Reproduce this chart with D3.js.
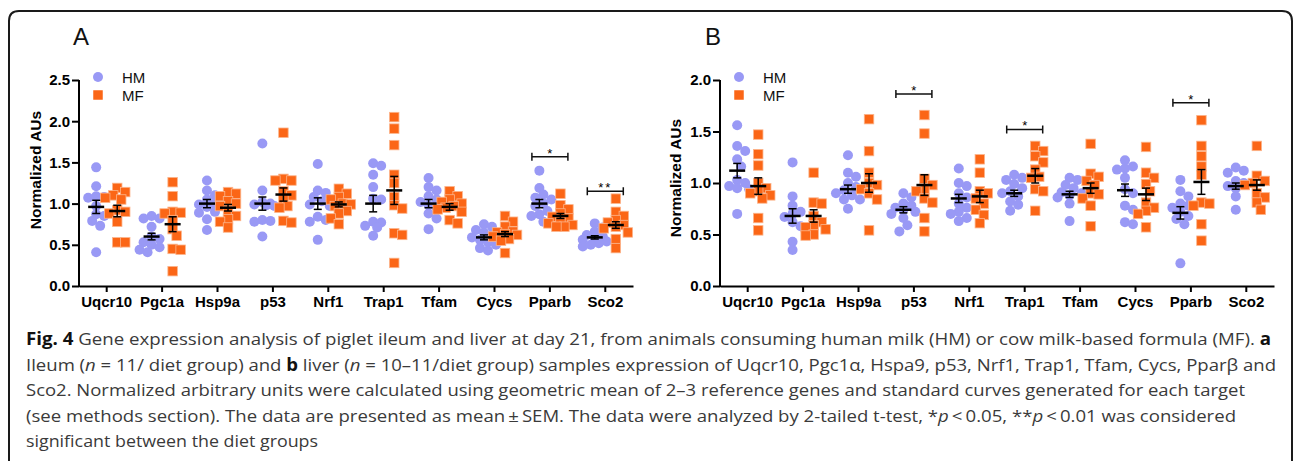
<!DOCTYPE html>
<html>
<head>
<meta charset="utf-8">
<script src="https://cdn.jsdelivr.net/npm/d3@7"></script>
<style>
  body { margin: 0; background: #fff; }
  svg { display: block; }
</style>
</head>
<body>
<script>
// ---- data ----
const genes = ["Uqcr10", "Pgc1a", "Hsp9a", "p53", "Nrf1", "Trap1", "Tfam", "Cycs", "Pparb", "Sco2"];
const groups = ["HM", "MF"];

// panel A: ileum
const ileumHM = [
    [1.44, 1.21, 1.08, 1.07, 1.09, 0.97, 0.87, 0.85, 0.79, 0.73, 0.41],
    [0.85, 0.82, 0.82, 0.72, 0.60, 0.57, 0.53, 0.50, 0.47, 0.44, 0.41],
    [1.28, 1.16, 1.10, 1.05, 1.00, 0.99, 0.96, 0.90, 0.89, 0.81, 0.68],
    [1.73, 1.16, 1.02, 1.00, 0.99, 0.98, 0.97, 0.80, 0.79, 0.78, 0.60],
    [1.48, 1.16, 1.13, 1.08, 1.03, 0.99, 0.97, 0.84, 0.80, 0.78, 0.56],
    [1.49, 1.46, 1.35, 1.20, 1.06, 1.05, 0.78, 0.77, 0.73, 0.71, 0.61],
    [1.31, 1.20, 1.16, 1.09, 1.05, 1.02, 0.98, 0.95, 0.88, 0.82, 0.69],
    [0.75, 0.72, 0.68, 0.65, 0.62, 0.59, 0.56, 0.53, 0.50, 0.46, 0.43],
    [1.40, 1.19, 1.11, 1.07, 1.05, 1.00, 0.97, 0.91, 0.87, 0.85, 0.78],
    [0.76, 0.71, 0.66, 0.62, 0.60, 0.58, 0.56, 0.54, 0.52, 0.50, 0.48]
];
const ileumMF = [
    [1.19, 1.14, 1.10, 1.07, 1.05, 0.92, 0.90, 0.88, 0.78, 0.53, 0.53],
    [1.26, 1.09, 0.90, 0.89, 0.88, 0.80, 0.69, 0.61, 0.45, 0.44, 0.18],
    [1.14, 1.12, 1.09, 1.03, 1.00, 0.97, 0.91, 0.85, 0.81, 0.78, 0.71],
    [1.86, 1.30, 1.28, 1.28, 1.15, 1.10, 1.05, 0.97, 0.95, 0.79, 0.77],
    [1.18, 1.12, 1.08, 1.05, 1.00, 0.99, 0.97, 0.91, 0.88, 0.82, 0.75],
    [2.05, 1.91, 1.71, 1.35, 1.25, 1.08, 0.98, 0.94, 0.64, 0.62, 0.28],
    [1.15, 1.09, 1.05, 1.02, 1.00, 0.97, 0.95, 0.93, 0.90, 0.80, 0.76],
    [0.85, 0.78, 0.72, 0.66, 0.65, 0.63, 0.62, 0.60, 0.57, 0.55, 0.40],
    [1.12, 0.98, 0.93, 0.88, 0.84, 0.82, 0.78, 0.76, 0.74, 0.72, 0.72],
    [1.06, 0.90, 0.85, 0.80, 0.77, 0.74, 0.72, 0.70, 0.65, 0.57, 0.46]
];
const ileumHMMean = [0.96, 0.60, 1.00, 1.00, 1.00, 1.00, 1.00, 0.59, 1.00, 0.59];
const ileumHMSem  = [0.08, 0.04, 0.05, 0.08, 0.07, 0.10, 0.05, 0.03, 0.05, 0.02];
const ileumMFMean = [0.91, 0.75, 0.95, 1.11, 0.99, 1.16, 0.96, 0.63, 0.85, 0.74];
const ileumMFSem  = [0.07, 0.09, 0.04, 0.08, 0.03, 0.17, 0.04, 0.03, 0.03, 0.04];
const ileumSig = [
    {gene: "Pparb", y: 1.57, label: "*"},
    {gene: "Sco2", y: 1.15, label: "**"}
];

// panel B: liver
const liverHM = [
    [1.56, 1.36, 1.31, 1.23, 1.16, 1.03, 1.00, 0.97, 0.95, 0.94, 0.70],
    [1.20, 0.87, 0.78, 0.72, 0.70, 0.67, 0.62, 0.58, 0.43, 0.35],
    [1.27, 1.10, 1.06, 1.00, 0.96, 0.93, 0.90, 0.88, 0.84, 0.84, 0.75],
    [0.90, 0.86, 0.80, 0.78, 0.76, 0.74, 0.72, 0.70, 0.66, 0.59, 0.53],
    [1.14, 1.00, 0.97, 0.90, 0.86, 0.80, 0.76, 0.72, 0.70, 0.66, 0.63],
    [1.08, 1.05, 1.03, 0.99, 0.95, 0.92, 0.90, 0.87, 0.82, 0.79, 0.73],
    [1.05, 1.03, 0.98, 0.95, 0.91, 0.90, 0.88, 0.86, 0.80, 0.63],
    [1.22, 1.16, 1.14, 1.13, 1.05, 0.94, 0.90, 0.78, 0.74, 0.62, 0.60],
    [1.03, 0.92, 0.87, 0.80, 0.78, 0.76, 0.72, 0.68, 0.65, 0.60, 0.22],
    [1.15, 1.12, 1.10, 1.02, 1.00, 0.97, 0.95, 0.87, 0.74]
];
const liverMF = [
    [1.47, 1.28, 1.17, 1.00, 0.95, 0.92, 0.90, 0.88, 0.85, 0.66, 0.54],
    [1.10, 0.81, 0.80, 0.68, 0.62, 0.59, 0.57, 0.55, 0.50, 0.49],
    [1.62, 1.31, 1.10, 1.00, 0.98, 0.94, 0.90, 0.84, 0.54],
    [1.66, 1.48, 1.04, 0.98, 0.94, 0.92, 0.85, 0.81, 0.66, 0.53],
    [1.23, 1.10, 0.92, 0.90, 0.85, 0.80, 0.74, 0.69, 0.61],
    [1.36, 1.31, 1.26, 1.20, 1.13, 1.06, 1.05, 0.94, 0.92, 0.73],
    [1.38, 1.09, 1.06, 1.02, 0.98, 0.90, 0.89, 0.85, 0.78, 0.58],
    [1.35, 1.10, 1.05, 0.99, 0.92, 0.81, 0.76, 0.73, 0.70, 0.57],
    [1.61, 1.36, 1.26, 1.16, 1.08, 0.81, 0.80, 0.78, 0.60, 0.44],
    [1.36, 1.07, 1.02, 1.00, 0.98, 0.90, 0.86, 0.81, 0.74]
];
const liverHMMean = [1.12, 0.68, 0.94, 0.74, 0.85, 0.90, 0.89, 0.93, 0.71, 0.97];
const liverHMSem  = [0.07, 0.07, 0.04, 0.03, 0.04, 0.03, 0.03, 0.06, 0.06, 0.03];
const liverMFMean = [0.97, 0.68, 1.00, 0.98, 0.87, 1.07, 0.95, 0.89, 1.01, 0.98];
const liverMFSem  = [0.08, 0.06, 0.09, 0.10, 0.06, 0.07, 0.05, 0.06, 0.12, 0.05];
const liverSig = [
    {gene: "p53", y: 1.865, label: "*"},
    {gene: "Trap1", y: 1.52, label: "*"},
    {gene: "Pparb", y: 1.78, label: "*"}
];

const yTicksA = [0, 0.5, 1.0, 1.5, 2.0, 2.5];
const yTicksB = [0, 0.5, 1.0, 1.5, 2.0];

// ---- layout / style ----
const W = 1293, H = 461;
const axisTop = 80, axisBottom = 286, axisWidth = 554;
const hmColor = "#9999f5", mfColor = "#fb6616";
const chartFont = "'Liberation Sans', Arial, sans-serif";
const captionFont = "'Open Sans', 'Noto Sans', sans-serif";

let svg = d3.select("body").append("svg")
    .attr("width", W)
    .attr("height", H);

// figure frame (open at the bottom)
svg.append("path")
    .attr("d", "M9,470 V21 Q9,11 19,11 H1282 Q1292,11 1292,21 V470")
    .attr("fill", "none")
    .attr("stroke", "#1a1a1a")
    .attr("stroke-width", 2);

drawPanel({
    letter: "A", letterX: 73, left: 79, yMax: 2.5, yTicks: yTicksA,
    hm: ileumHM, mf: ileumMF,
    hmMean: ileumHMMean, hmSem: ileumHMSem, mfMean: ileumMFMean, mfSem: ileumMFSem,
    sig: ileumSig, titleX: 40.5, titleY: 170
});
drawPanel({
    letter: "B", letterX: 705, left: 720, yMax: 2.0, yTicks: yTicksB,
    hm: liverHM, mf: liverMF,
    hmMean: liverHMMean, hmSem: liverHMSem, mfMean: liverMFMean, mfSem: liverMFSem,
    sig: liverSig, titleX: 681, titleY: 178
});

drawCaption();

// spread points with close values sideways, like a scatter dot plot
function swarm(vals, y) {
    let pts = vals.map(v => ({v: v, py: y(v), dx: 0}))
        .sort((a, b) => a.py - b.py);
    let offs = [0, 4, -4, 8, -8, 12, -12];
    let placed = [];
    pts.forEach(p => {
        let best = 0, bestD = -1;
        for (let o of offs) {
            let d = placed.length ? d3.min(placed, q => Math.hypot(q.dx - o, q.py - p.py)) : 99;
            if (d >= 7.5) { best = o; bestD = d; break; }
            if (d > bestD) { bestD = d; best = o; }
        }
        p.dx = best;
        placed.push(p);
    });
    return pts;
}

function drawPanel(cfg) {
    let g = svg.append("g");

    let y = d3.scaleLinear()
        .domain([0, cfg.yMax])
        .range([axisBottom, axisTop]);
    let x0 = d3.scaleBand()
        .domain(genes)
        .range([cfg.left, cfg.left + axisWidth])
        .paddingInner(0.24)
        .paddingOuter(0.12);
    let x1 = d3.scaleBand()
        .domain(groups)
        .range([0, x0.bandwidth()]);
    let cx = (gene, grp) => x0(gene) + x1(grp) + x1.bandwidth() / 2;

    // panel letter
    g.append("text")
        .attr("x", cfg.letterX)
        .attr("y", 45)
        .text(cfg.letter)
        .style("font-family", chartFont)
        .style("font-size", "24px")
        .attr("fill", "#111");

    // axes
    let yAxis = g.append("g")
        .attr("transform", `translate(${cfg.left},0)`)
        .call(d3.axisLeft(y).tickValues(cfg.yTicks).tickFormat(d3.format(".1f"))
            .tickSize(7).tickSizeOuter(0).tickPadding(2));
    let xAxis = g.append("g")
        .attr("transform", `translate(0,${axisBottom})`)
        .call(d3.axisBottom(x0).tickSize(6).tickSizeOuter(0).tickPadding(4));
    [yAxis, xAxis].forEach(a => {
        a.select(".domain").attr("stroke", "#000").attr("stroke-width", 2);
        a.selectAll(".tick line").attr("stroke", "#000").attr("stroke-width", 2);
        a.selectAll(".tick text")
            .attr("fill", "#000")
            .style("font-family", chartFont)
            .style("font-size", "15px")
            .style("font-weight", "bold");
    });
    // keep the y axis line running through the x axis corner
    yAxis.select(".domain").attr("d", `M0,${axisBottom + 1}V${axisTop}`);

    g.append("text")
        .attr("transform", `translate(${cfg.titleX},${cfg.titleY}) rotate(-90)`)
        .attr("text-anchor", "middle")
        .text("Normalized AUs")
        .style("font-family", chartFont)
        .style("font-size", "15.5px")
        .style("font-weight", "bold");

    // points
    genes.forEach((gene, i) => {
        swarm(cfg.hm[i], y).forEach(p => {
            g.append("circle")
                .attr("cx", cx(gene, "HM") + p.dx)
                .attr("cy", p.py)
                .attr("r", 5)
                .attr("fill", hmColor);
        });
        swarm(cfg.mf[i], y).forEach(p => {
            g.append("rect")
                .attr("x", cx(gene, "MF") + p.dx - 4.75)
                .attr("y", p.py - 4.75)
                .attr("width", 9.5)
                .attr("height", 9.5)
                .attr("fill", mfColor)
                .attr("stroke", "#fcb58c")
                .attr("stroke-width", 0.8);
        });
    });

    // mean +- SEM
    genes.forEach((gene, i) => {
        [["HM", cfg.hmMean[i], cfg.hmSem[i]], ["MF", cfg.mfMean[i], cfg.mfSem[i]]].forEach(([grp, m, s]) => {
            let c = cx(gene, grp);
            g.append("line")
                .attr("x1", c).attr("x2", c)
                .attr("y1", y(m - s)).attr("y2", y(m + s))
                .attr("stroke", "#000").attr("stroke-width", 1.5);
            [m - s, m + s].forEach(v => {
                g.append("line")
                    .attr("x1", c - 4).attr("x2", c + 4)
                    .attr("y1", y(v)).attr("y2", y(v))
                    .attr("stroke", "#000").attr("stroke-width", 1.5);
            });
            g.append("line")
                .attr("x1", c - 8).attr("x2", c + 8)
                .attr("y1", y(m)).attr("y2", y(m))
                .attr("stroke", "#000").attr("stroke-width", 2.5);
        });
    });

    // significance brackets
    cfg.sig.forEach(s => {
        let mid = x0(s.gene) + x0.bandwidth() / 2;
        let yy = y(s.y);
        g.append("path")
            .attr("d", `M${mid - 18},${yy - 4}V${yy + 4}M${mid - 18},${yy}H${mid + 18}M${mid + 18},${yy - 4}V${yy + 4}`)
            .attr("fill", "none")
            .attr("stroke", "#111")
            .attr("stroke-width", 1.5);
        g.append("text")
            .attr("x", mid)
            .attr("y", yy + 1)
            .attr("text-anchor", "middle")
            .text(s.label)
            .style("font-family", chartFont)
            .style("font-size", "13px")
            .style("letter-spacing", s.label.length > 1 ? "2px" : "0px");
    });

    // legend
    let lg = g.append("g").attr("transform", `translate(${cfg.left},0)`);
    lg.append("circle").attr("cx", 19).attr("cy", 77).attr("r", 5).attr("fill", hmColor);
    lg.append("rect").attr("x", 14.25).attr("y", 90.25).attr("width", 9.5).attr("height", 9.5)
        .attr("fill", mfColor);
    [["HM", 83], ["MF", 100.5]].forEach(([t, by]) => {
        lg.append("text")
            .attr("x", 43).attr("y", by)
            .text(t)
            .style("font-family", chartFont)
            .style("font-size", "15px")
            .attr("fill", "#111");
    });
}

function drawCaption() {
    // each line: list of [text, style], plus the width it spans
    let lines = [
        {w: 1245, parts: [["Fig. 4", "b"], [" Gene expression analysis of piglet ileum and liver at day 21, from animals consuming human milk (HM) or cow milk-based formula (MF). ", ""], ["a", "b"]]},
        {w: 1250, parts: [["Ileum (", ""], ["n", "i"], [" = 11/ diet group) and ", ""], ["b", "b"], [" liver (", ""], ["n", "i"], [" = 10\u201311/diet group) samples expression of Uqcr10, Pgc1\u03b1, Hspa9, p53, Nrf1, Trap1, Tfam, Cycs, Ppar\u03b2 and", ""]]},
        {w: 1219, parts: [["Sco2. Normalized arbitrary units were calculated using geometric mean of 2\u20133 reference genes and standard curves generated for each target", ""]]},
        {w: 1210, parts: [["(see methods section). The data are presented as mean\u2009\u00b1\u2009SEM. The data were analyzed by 2-tailed t-test, *", ""], ["p", "i"], ["\u2009<\u20090.05, **", ""], ["p", "i"], ["\u2009<\u20090.01 was considered", ""]]},
        {w: 292, parts: [["significant between the diet groups", ""]]}
    ];
    lines.forEach((ln, i) => {
        let t = svg.append("text")
            .attr("x", 26)
            .attr("y", 345 + i * 25.5)
            .attr("textLength", ln.w)
            .attr("lengthAdjust", "spacingAndGlyphs")
            .style("font-family", captionFont)
            .style("font-size", "17px")
            .attr("fill", "#3a3a3a");
        ln.parts.forEach(([txt, st]) => {
            let sp = t.append("tspan").text(txt);
            if (st === "b") sp.style("font-weight", "bold").attr("fill", "#111");
            if (st === "i") sp.style("font-style", "italic");
        });
    });
}
</script>
</body>
</html>
